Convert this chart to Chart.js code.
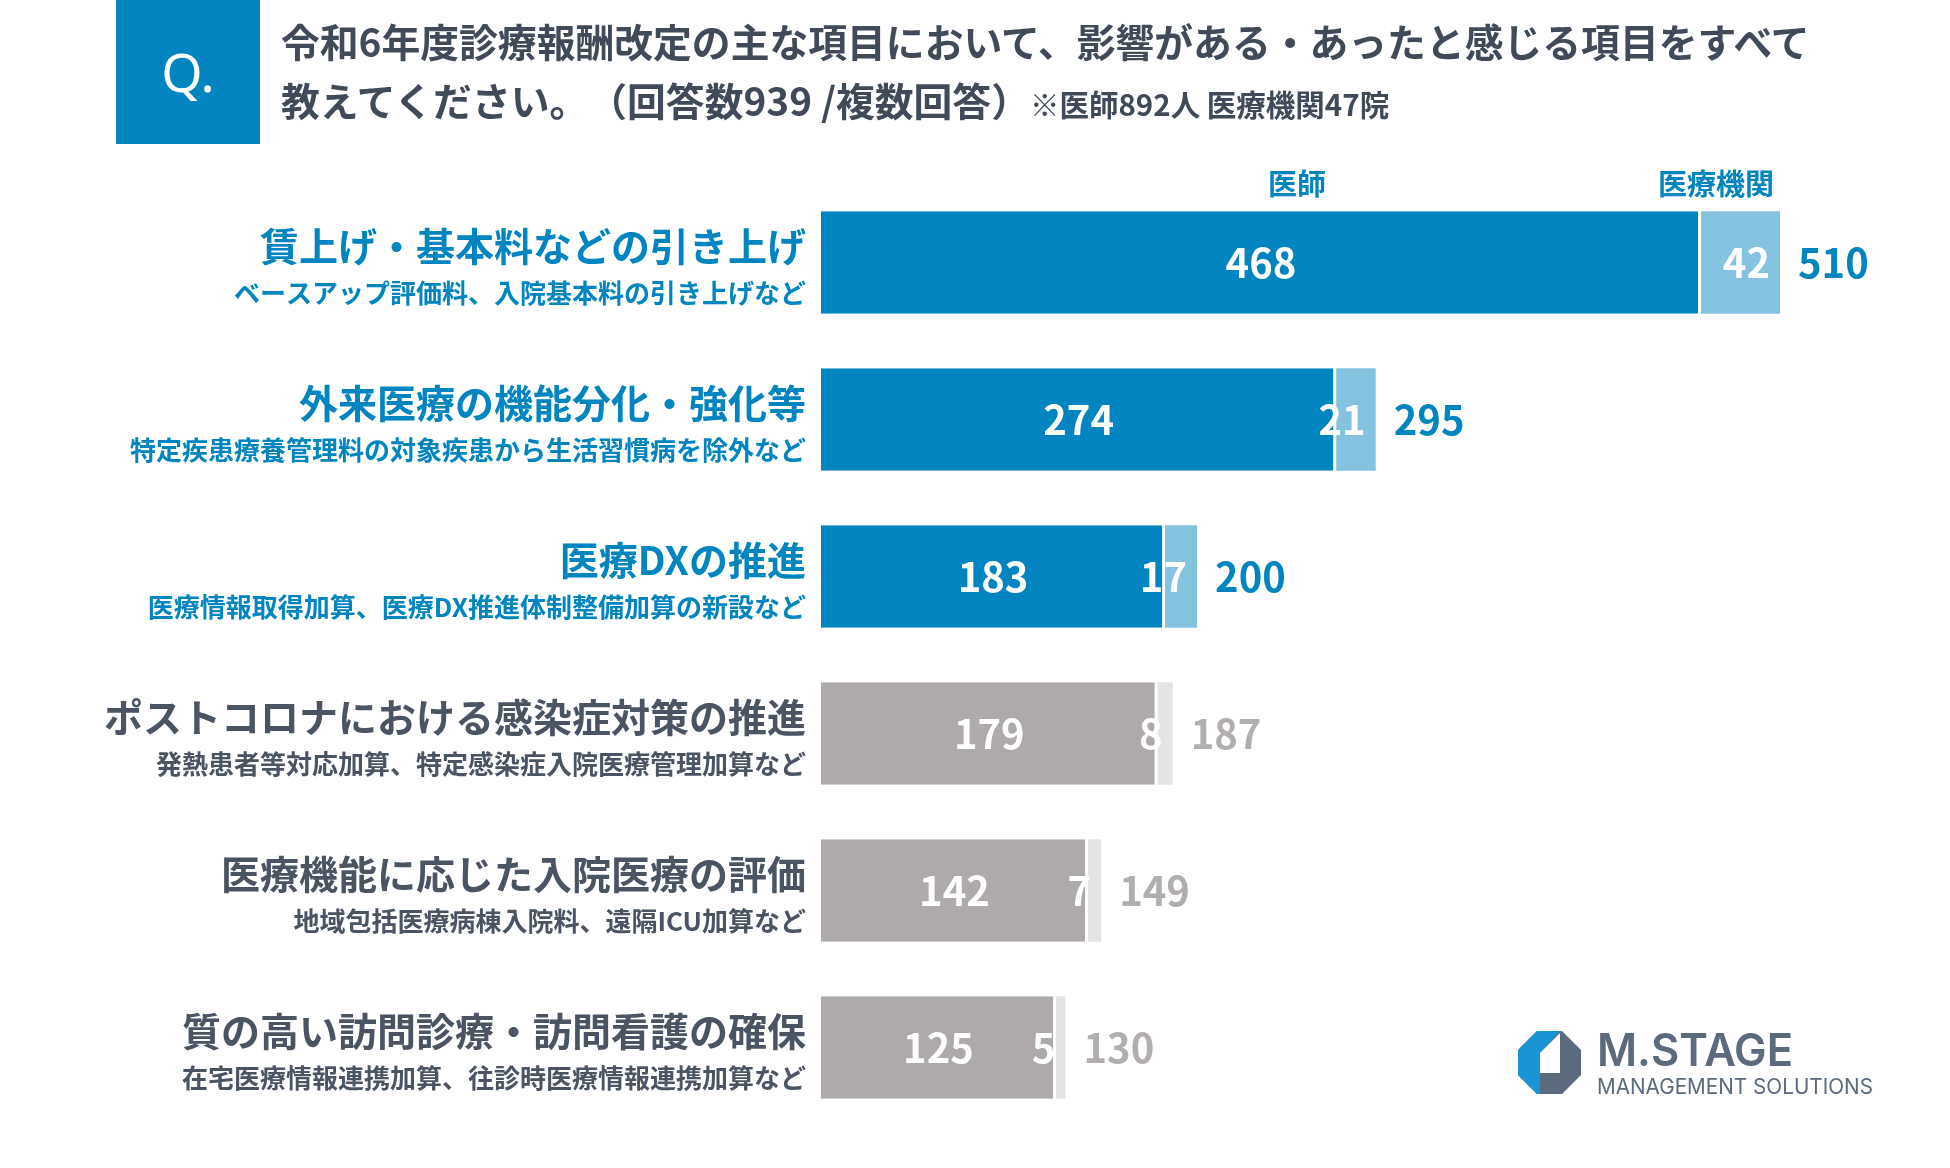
<!DOCTYPE html>
<html lang="ja">
<head>
<meta charset="utf-8">
<script src="https://cdn.jsdelivr.net/npm/chart.js@4.4.1/dist/chart.umd.min.js"></script>
<style>
  html, body { margin:0; padding:0; background:#fff; width:1950px; height:1168px; overflow:hidden; }
  body { position:relative; font-family:"Noto Sans CJK JP","Noto Sans",sans-serif; text-spacing-trim: space-all; }
  #qbox { position:absolute; left:116px; top:0; width:144px; height:144px; background:#0085c1; color:#fff;
          font-family:"Noto Sans","Open Sans",sans-serif; font-size:53px; font-weight:400; line-height:144px; text-align:center; }
  .title { position:absolute; left:281px; color:#404a59; font-weight:700; font-size:38.8px; line-height:39px; white-space:nowrap; text-spacing-trim: space-all; }
  .title .small { font-size:29.5px; }
  .hdr { position:absolute; top:166px; color:#0085c1; font-weight:700; font-size:29px; line-height:32px; white-space:nowrap; }
  #chartwrap { position:absolute; left:0; top:0; width:1950px; height:1168px; }
  #logo { position:absolute; left:1510px; top:1025px; }
</style>
</head>
<body>
<div id="chartwrap"><canvas id="c" width="1950" height="1168"></canvas></div>
<div id="qbox">Q.</div>
<div class="title" style="top:21px;">令和6年度診療報酬改定の主な項目において、影響がある・あったと感じる項目をすべて</div>
<div class="title" style="top:80px;">教えてください。（回答数939 /複数回答）<span class="small">※医師892人 医療機関47院</span></div>
<div class="hdr" style="left:1268px;">医師</div>
<div class="hdr" style="left:1658px;">医療機関</div>
<svg id="logo" width="400" height="90" viewBox="0 0 400 90">
  <defs>
    <clipPath id="oct"><polygon points="27,6 52,6 71,25 71,50 52,69 27,69 8,50 8,25"/></clipPath>
  </defs>
  <g clip-path="url(#oct)">
    <rect x="0" y="0" width="80" height="80" fill="#5b6a7d"/>
    <polygon points="0,0 50,6 30,28 30,80 0,80" fill="#1a94d4"/>
    <polygon points="30,28 50,8 50,48 30,48" fill="#ffffff"/>
  </g>
  <text x="87" y="41" font-family="Inter, Lato, sans-serif" font-weight="600" font-size="45" fill="#5b6a7d" textLength="196" lengthAdjust="spacingAndGlyphs">M.STAGE</text>
  <text x="87" y="69" font-family="Inter, Lato, sans-serif" font-weight="400" font-size="21" fill="#5b6a7d" textLength="276" lengthAdjust="spacingAndGlyphs">MANAGEMENT SOLUTIONS</text>
</svg>
<script>
// ---- data ----
const mainLabels = [
  "賃上げ・基本料などの引き上げ",
  "外来医療の機能分化・強化等",
  "医療DXの推進",
  "ポストコロナにおける感染症対策の推進",
  "医療機能に応じた入院医療の評価",
  "質の高い訪問診療・訪問看護の確保"
];
const subLabels = [
  "ベースアップ評価料、入院基本料の引き上げなど",
  "特定疾患療養管理料の対象疾患から生活習慣病を除外など",
  "医療情報取得加算、医療DX推進体制整備加算の新設など",
  "発熱患者等対応加算、特定感染症入院医療管理加算など",
  "地域包括医療病棟入院料、遠隔ICU加算など",
  "在宅医療情報連携加算、往診時医療情報連携加算など"
];
const doctors = [468, 274, 183, 179, 142, 125];
const institutions = [42, 21, 17, 8, 7, 5];
const totals = [510, 295, 200, 187, 149, 130];
const highlighted = [true, true, true, false, false, false];

const BLUE = "#0085c1", LBLUE = "#85c2e0", GRAY = "#adaaa9", LGRAY = "#e4e4e4";
const LABEL_GRAY = "#4a5463", TOTAL_GRAY = "#b1aead";
const FONT = '"Noto Sans CJK JP", "Noto Sans", sans-serif';

const labelPlugin = {
  id: 'labels',
  afterDatasetsDraw(chart) {
    const ctx = chart.ctx;
    const m0 = chart.getDatasetMeta(0), m1 = chart.getDatasetMeta(1);
    ctx.save();
    mainLabels.forEach((lab, i) => {
      const b0 = m0.data[i], b1 = m1.data[i];
      const y = b0.y;
      const hl = highlighted[i];
      // category labels
      ctx.textAlign = 'right';
      ctx.textBaseline = 'middle';
      ctx.fillStyle = hl ? BLUE : LABEL_GRAY;
      ctx.font = '700 39px ' + FONT;
      ctx.fillText(lab, 806, y - 16);
      ctx.font = '700 26px ' + FONT;
      ctx.fillText(subLabels[i], 806, y + 31);
      // values
      ctx.font = '700 40px ' + FONT;
      ctx.fillStyle = '#ffffff';
      ctx.textAlign = 'center';
      ctx.fillText(String(doctors[i]), (b0.base + b0.x) / 2, y);
      ctx.textAlign = 'right';
      ctx.fillText(String(institutions[i]), b1.x - 10, y);
      ctx.textAlign = 'left';
      ctx.fillStyle = hl ? BLUE : TOTAL_GRAY;
      ctx.fillText(String(totals[i]), b1.x + 18, y);
    });
    ctx.restore();
  }
};

new Chart(document.getElementById('c'), {
  type: 'bar',
  data: {
    labels: mainLabels,
    datasets: [
      {
        label: '医師',
        data: doctors,
        backgroundColor: highlighted.map(h => h ? BLUE : GRAY),
        borderColor: '#ffffff',
        borderWidth: {left: 0, top: 0, bottom: 0, right: 3},
        borderSkipped: false,
        categoryPercentage: 0.653,
        barPercentage: 1.0
      },
      {
        label: '医療機関',
        data: institutions,
        backgroundColor: highlighted.map(h => h ? LBLUE : LGRAY),
        borderWidth: 0,
        categoryPercentage: 0.653,
        barPercentage: 1.0
      }
    ]
  },
  options: {
    indexAxis: 'y',
    responsive: false,
    animation: false,
    devicePixelRatio: 1,
    layout: { padding: { left: 821, right: 76, top: 184, bottom: 42 } },
    scales: {
      x: { stacked: true, min: 0, max: 560, display: false },
      y: { stacked: true, display: false }
    },
    plugins: { legend: { display: false }, tooltip: { enabled: false } }
  },
  plugins: [labelPlugin]
});
</script>
</body>
</html>
